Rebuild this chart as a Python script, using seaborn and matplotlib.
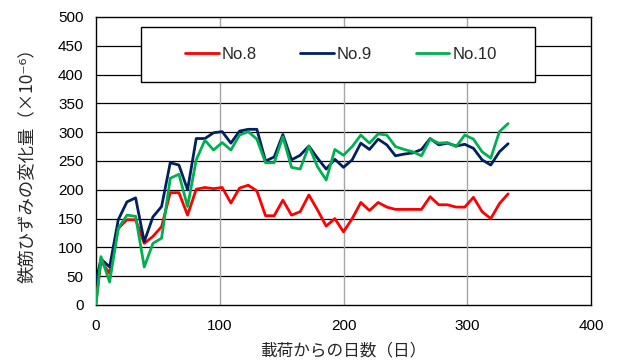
import matplotlib
matplotlib.use("Agg")
import matplotlib.pyplot as plt
from matplotlib.patches import Rectangle
import seaborn as sns
import pandas as pd

days = [0, 4, 11, 18, 25, 32, 39, 46, 53, 60, 67, 74, 81, 88, 95, 102, 109, 116,
        123, 130, 137, 144, 151, 158, 165, 172, 179, 186, 193, 200, 207, 214, 221,
        228, 235, 242, 249, 256, 263, 270, 277, 284, 291, 298, 305, 312, 319, 326, 333]
no8 = [5, 76, 55, 133, 148, 148, 107, 119, 136, 195, 195, 156, 201, 204, 202, 204,
       177, 203, 208, 198, 155, 155, 182, 156, 162, 191, 165, 137, 150, 127, 150,
       178, 164, 178, 170, 166, 166, 166, 166, 188, 174, 174, 170, 170, 187, 162,
       150, 176, 193]
no9 = [40, 80, 66, 148, 179, 186, 110, 153, 171, 247, 243, 200, 289, 289, 299, 301,
       281, 302, 305, 305, 250, 257, 296, 252, 260, 276, 255, 236, 253, 239, 252,
       281, 270, 288, 278, 259, 262, 264, 270, 289, 278, 281, 276, 279, 272, 252,
       243, 266, 280]
no10 = [0, 84, 40, 133, 156, 154, 66, 107, 116, 220, 227, 171, 252, 286, 269, 282,
        269, 295, 301, 288, 247, 247, 292, 239, 236, 276, 240, 217, 270, 260, 275,
        295, 281, 297, 295, 275, 270, 266, 259, 288, 281, 282, 275, 295, 288, 266,
        255, 301, 315]
series_names = ["No.8", "No.9", "No.10"]
colors = ["#FF0000", "#002060", "#00B050"]
x_ticks = [0, 100, 200, 300, 400]
y_ticks = [0, 50, 100, 150, 200, 250, 300, 350, 400, 450, 500]
xlabel = "載荷からの日数（日）"
ylabel = "鉄筋ひずみの変化量（×10⁻⁶）"

df = pd.DataFrame({
    "day": days * 3,
    "value": no8 + no9 + no10,
    "series": [series_names[0]] * len(days) + [series_names[1]] * len(days) + [series_names[2]] * len(days),
})

sns.set_theme(style="white")
plt.rcParams["font.family"] = ["Noto Sans CJK JP", "DejaVu Sans"]

fig = plt.figure(figsize=(6.17, 3.61), dpi=100)
ax = fig.add_axes([96 / 617, 56 / 361, 495 / 617, 288 / 361])

sns.lineplot(data=df, x="day", y="value", hue="series", hue_order=series_names,
             palette=colors, linewidth=2.0, ax=ax, legend=False, zorder=3)

ax.set_xlim(0, 400)
ax.set_ylim(0, 500)
ax.set_xticks(x_ticks)
ax.set_yticks(y_ticks)
ax.tick_params(axis="both", length=0, labelsize=11, colors="black")
ax.tick_params(axis="x", pad=10)
ax.tick_params(axis="y", pad=9)
for lab in ax.get_xticklabels() + ax.get_yticklabels():
    lab.set_family(["Liberation Sans", "DejaVu Sans"])
for y in y_ticks[1:-1]:
    ax.axhline(y, color="black", linewidth=0.9, zorder=1)
for x in x_ticks[1:-1]:
    ax.axvline(x, color="#A6A6A6", linewidth=1.0, zorder=1)
for s in ax.spines.values():
    s.set_color("black")
    s.set_linewidth(1.0)
    s.set_visible(True)

ax.set_xlabel(xlabel, fontsize=12, labelpad=7)
ax.set_ylabel(ylabel, fontsize=12.5, labelpad=16)

# legend box frame
box = Rectangle((45 / 495, (305 - 82) / 288), 394 / 495, 55 / 288,
                transform=ax.transAxes, facecolor="white", edgecolor="black",
                linewidth=1.0, zorder=4)
ax.add_patch(box)
handles = [plt.Line2D([], [], color=c, linewidth=2.0) for c in colors]
leg = ax.legend(handles, series_names, ncol=3, loc="center",
                bbox_to_anchor=((45 + 197 + 3) / 495, (305 - 54.5) / 288),
                prop={"family": ["Liberation Sans", "DejaVu Sans"], "size": 12},
                frameon=False, handlelength=2.0, handletextpad=0.2,
                columnspacing=2.6, borderpad=0)
leg.set_zorder(5)

fig.savefig("out.png", dpi=100, facecolor="white")
